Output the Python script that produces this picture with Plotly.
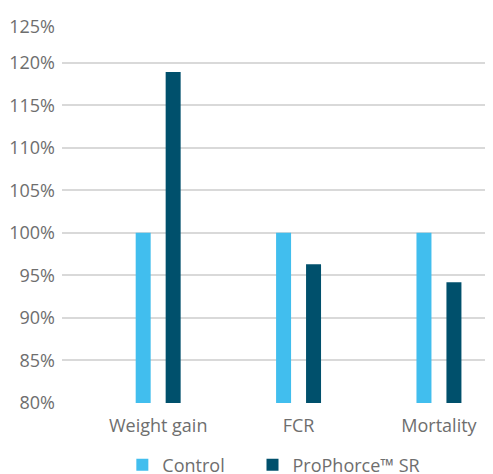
import plotly.graph_objects as go

categories = ["Weight gain", "FCR", "Mortality"]
control_values = [100, 100, 100]
prophorce_values = [118.9, 96.3, 94.2]
series_names = ["Control", "ProPhorce™ SR"]
tick_values = [80, 85, 90, 95, 100, 105, 110, 115, 120, 124.2]
tick_labels = ["80%", "85%", "90%", "95%", "100%", "105%", "110%", "115%", "120%", "125%"]

light_blue = "#41BEEE"
dark_teal = "#00506C"
text_gray = "#6E6E6E"
font_family = "Open Sans"
fsize = 18

fig = go.Figure()
fig.add_trace(go.Bar(x=categories, y=control_values, name=series_names[0],
                     marker=dict(color=light_blue, line=dict(width=0)), legend="legend"))
fig.add_trace(go.Bar(x=categories, y=prophorce_values, name=series_names[1],
                     marker=dict(color=dark_teal, line=dict(width=0)), legend="legend2"))

legend_common = dict(orientation="h", xanchor="left", y=-0.165, yanchor="middle",
                     font=dict(size=fsize, color=text_gray), itemwidth=30,
                     bgcolor="rgba(0,0,0,0)")

fig.update_layout(
    width=493, height=474,
    margin=dict(l=54, r=8, t=19, b=79, autoexpand=False),
    paper_bgcolor="white", plot_bgcolor="white",
    barmode="group", bargap=0.573, bargroupgap=0.5,
    font=dict(family=font_family, size=fsize, color=text_gray),
    showlegend=True,
    legend=dict(x=0.14, **legend_common),
    legend2=dict(x=0.442, **legend_common),
    xaxis=dict(range=[-0.685, 2.385], showgrid=False, zeroline=False, showline=False,
               ticks="", automargin=False, ticklabelstandoff=10,
               tickfont=dict(size=fsize, color=text_gray)),
    yaxis=dict(range=[80, 124.2], tickvals=tick_values, ticktext=tick_labels,
               showgrid=True, gridcolor="#D9D9D9", gridwidth=1.5, zeroline=False,
               showline=False, ticks="", automargin=False, ticklabelstandoff=6,
               tickfont=dict(size=fsize, color=text_gray)),
)
fig.update_traces(hoverinfo="skip")
fig.write_html("out.html")
